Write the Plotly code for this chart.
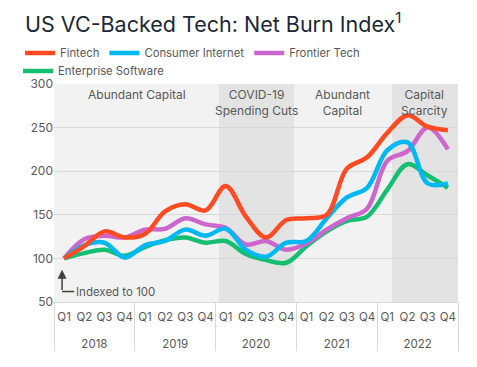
import plotly.graph_objects as go

years = ["2018", "2019", "2020", "2021", "2022"]
quarters = ["Q1", "Q2", "Q3", "Q4"]
series_names = ["Fintech", "Consumer Internet", "Frontier Tech", "Enterprise Software"]
fintech = [100, 114, 131, 124, 128, 154, 162, 155, 183, 148, 124, 144, 146, 150, 203, 216, 244, 264, 251, 247]
consumer = [100, 115, 118, 101, 115, 120, 133, 126, 134, 110, 102, 118, 120, 146, 170, 181, 224, 233, 186, 186]
frontier = [100, 122, 126, 124, 133, 134, 146, 139, 135, 116, 120, 110, 117, 133, 146, 157, 212, 223, 250, 225]
enterprise = [100, 106, 110, 103, 113, 121, 124, 118, 120, 105, 98, 95, 114, 131, 143, 148, 179, 208, 195, 181]
colors = ["#FF4A22", "#00B8F2", "#CC66CC", "#14BF72"]
legend_ids = ["legend", "legend", "legend", "legend2"]

zone_labels = ["Abundant Capital", "COVID-19<br>Spending Cuts", "Abundant<br>Capital", "Capital<br>Scarcity"]
zone_bounds = [-0.5, 7.67, 11.38, 16.23, 19.5]
zone_fills = ["#F2F2F2", "#E3E3E3", "#F2F2F2", "#E3E3E3"]

# outer (year) labels get an empty first line so they sit lower, as in the reference
x_years = ["<br>" + y for y in years for _ in quarters]
x_quarters = [q for _ in years for q in quarters]

FONT = "Inter"
GREY = "#595959"
# the page body adds an 8px offset, so the figure is 8px smaller than the window
W, H = 469, 359

fig = go.Figure()
series_vals = [fintech, consumer, frontier, enterprise]
# draw Enterprise first so Fintech ends on top
for idx in [3, 2, 1, 0]:
    fig.add_trace(go.Scatter(
        x=[x_years, x_quarters], y=series_vals[idx], name=series_names[idx], mode="lines",
        legend=legend_ids[idx], legendrank=idx,
        line=dict(color=colors[idx], width=4.5, shape="spline", smoothing=1.0),
    ))

for i in range(4):
    fig.add_shape(type="rect", xref="x", yref="y", x0=zone_bounds[i], x1=zone_bounds[i + 1],
                  y0=50, y1=300, fillcolor=zone_fills[i], line_width=0, layer="below")
    fig.add_annotation(x=(zone_bounds[i] + zone_bounds[i + 1]) / 2, y=300, xref="x", yref="y",
                       text=zone_labels[i], showarrow=False, yanchor="top", yshift=-1,
                       font=dict(family=FONT, size=12, color=GREY))

# "Indexed to 100" elbow arrow
fig.add_annotation(x=-0.1, y=87, ax=-0.1, ay=62, xref="x", yref="y", axref="x", ayref="y",
                   text="", showarrow=True, arrowhead=2, arrowsize=1.2, arrowwidth=1.5,
                   arrowcolor="#404040")
fig.add_shape(type="line", xref="x", yref="y", x0=-0.1, x1=0.5, y0=62, y1=62,
              line=dict(color="#404040", width=1.5))
fig.add_annotation(x=0.5, y=62, xref="x", yref="y", text="Indexed to 100", showarrow=False,
                   xanchor="left", font=dict(family=FONT, size=11.5, color=GREY))

legend_common = dict(orientation="h", xref="container", yref="container", xanchor="left",
                     yanchor="middle", font=dict(family=FONT, size=11.3, color=GREY),
                     bgcolor="rgba(0,0,0,0)", borderwidth=0, itemclick=False)
fig.update_layout(
    width=W, height=H,
    margin=dict(l=46, r=19, t=76, b=65, autoexpand=False),
    paper_bgcolor="white", plot_bgcolor="white",
    font=dict(family=FONT, size=12, color=GREY),
    title=dict(text="US VC-Backed Tech: Net Burn Index<sup>1</sup>", x=17 / W, xref="container",
               xanchor="left", y=1 - 16 / H, yref="container", yanchor="middle",
               font=dict(family=FONT, size=21.5, color="#1B2838")),
    legend=dict(x=12 / W, y=1 - 45 / H, **legend_common),
    legend2=dict(x=10 / W, y=1 - 63 / H, **legend_common),
    showlegend=True,
)
fig.update_xaxes(type="multicategory", showgrid=False, showline=True, linecolor="#D9D9D9",
                 showdividers=True, dividercolor="#D9D9D9", dividerwidth=1, tickangle=0,
                 ticklabelstandoff=4,
                 tickfont=dict(family=FONT, size=11.5, color=GREY), ticks="")
fig.update_yaxes(range=[50, 300], dtick=50, showgrid=True, gridcolor="#D9D9D9", gridwidth=1,
                 zeroline=False, showline=False, ticks="",
                 tickfont=dict(family=FONT, size=12, color=GREY))

fig.write_html("out.html")
